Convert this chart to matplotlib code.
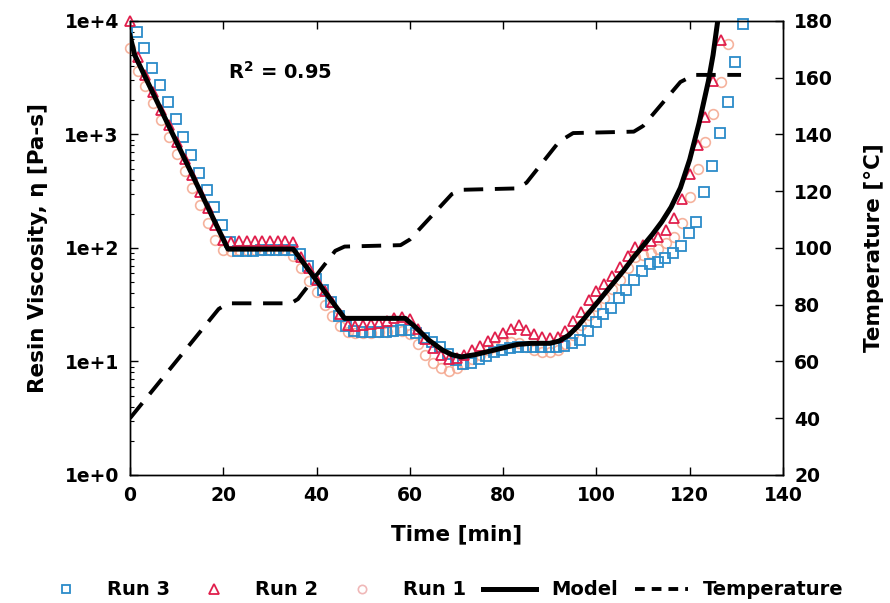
import numpy as np
import matplotlib
matplotlib.use("Agg")
import matplotlib.pyplot as plt
from matplotlib.lines import Line2D
from matplotlib.ticker import FixedLocator, FixedFormatter, LogLocator, NullFormatter

# Sample times [min] (one reading every 100 s)
time_a = [0.0, 1.7, 3.3, 5.0, 6.7, 8.3, 10.0, 11.7, 13.3, 15.0,
          16.7, 18.3, 20.0, 21.7, 23.3, 25.0, 26.7, 28.3, 30.0, 31.7,
          33.3, 35.0, 36.7, 38.3, 40.0, 41.7, 43.3, 45.0, 46.7, 48.3,
          50.0, 51.7, 53.3, 55.0, 56.7, 58.3, 60.0, 61.7, 63.3, 65.0,
          66.7, 68.3, 70.0, 71.7, 73.3, 75.0, 76.7, 78.3, 80.0, 81.7,
          83.3, 85.0, 86.7, 88.3, 90.0, 91.7, 93.3, 95.0, 96.7, 98.3,
          100.0, 101.7, 103.3, 105.0, 106.7, 108.3, 110.0, 111.7, 113.3, 115.0,
          116.7, 118.3, 120.0, 121.7, 123.3, 125.0, 126.7, 128.3, 130.0]
time_b = [1.4, 3.1, 4.8, 6.4, 8.1, 9.8, 11.4, 13.1, 14.8, 16.4,
          18.1, 19.8, 21.4, 23.1, 24.8, 26.4, 28.1, 29.8, 31.4, 33.1,
          34.8, 36.4, 38.1, 39.8, 41.4, 43.1, 44.8, 46.4, 48.1, 49.8,
          51.4, 53.1, 54.8, 56.4, 58.1, 59.8, 61.4, 63.1, 64.8, 66.4,
          68.1, 69.8, 71.4, 73.1, 74.8, 76.4, 78.1, 79.8, 81.4, 83.1,
          84.8, 86.4, 88.1, 89.8, 91.4, 93.1, 94.8, 96.4, 98.1, 99.8,
          101.4, 103.1, 104.8, 106.4, 108.1, 109.8, 111.4, 113.1, 114.8, 116.4,
          118.1, 119.8, 121.4, 123.1, 124.8, 126.4, 128.1, 129.8, 131.4]

# log10 of viscosity [Pa-s]
run1_log = [3.76, 3.56, 3.43, 3.28, 3.13, 2.98, 2.83, 2.68, 2.53, 2.38,
            2.22, 2.07, 1.98, 1.97, 1.98, 1.98, 1.98, 1.98, 1.98, 1.98,
            1.98, 1.93, 1.82, 1.71, 1.61, 1.50, 1.40, 1.31, 1.26, 1.25,
            1.25, 1.25, 1.26, 1.26, 1.27, 1.27, 1.24, 1.15, 1.06, 0.99,
            0.94, 0.92, 0.94, 0.98, 1.02, 1.06, 1.10, 1.13, 1.16, 1.17,
            1.16, 1.13, 1.10, 1.08, 1.08, 1.10, 1.15, 1.23, 1.32, 1.41,
            1.49, 1.56, 1.64, 1.72, 1.82, 1.92, 1.94, 1.96, 1.99, 2.04,
            2.10, 2.22, 2.45, 2.70, 2.93, 3.18, 3.46, 3.80]
run2_log = [4.00, 3.68, 3.52, 3.37, 3.22, 3.08, 2.93, 2.78, 2.64, 2.49,
            2.35, 2.20, 2.07, 2.05, 2.06, 2.06, 2.06, 2.06, 2.06, 2.06,
            2.06, 2.05, 1.92, 1.82, 1.72, 1.62, 1.52, 1.42, 1.32, 1.31,
            1.32, 1.33, 1.34, 1.36, 1.38, 1.39, 1.37, 1.29, 1.20, 1.12,
            1.06, 1.02, 1.03, 1.06, 1.10, 1.14, 1.18, 1.22, 1.25, 1.29,
            1.32, 1.28, 1.24, 1.22, 1.21, 1.22, 1.27, 1.36, 1.44, 1.54,
            1.62, 1.68, 1.75, 1.83, 1.93, 2.01, 2.03, 2.06, 2.10, 2.16,
            2.26, 2.43, 2.65, 2.91, 3.15, 3.47, 3.83]
run3_log = [3.90, 3.76, 3.59, 3.44, 3.29, 3.14, 2.98, 2.82, 2.66, 2.51,
            2.36, 2.20, 2.05, 1.97, 1.97, 1.97, 1.98, 1.98, 1.98, 1.98,
            1.98, 1.95, 1.84, 1.73, 1.63, 1.52, 1.40, 1.31, 1.27, 1.26,
            1.26, 1.26, 1.26, 1.27, 1.28, 1.28, 1.25, 1.21, 1.17, 1.13,
            1.07, 1.01, 0.98, 0.99, 1.02, 1.05, 1.08, 1.10, 1.12, 1.13,
            1.13, 1.13, 1.13, 1.13, 1.13, 1.14, 1.16, 1.19, 1.27, 1.35,
            1.42, 1.47, 1.56, 1.63, 1.72, 1.80, 1.86, 1.88, 1.91, 1.96,
            2.02, 2.13, 2.23, 2.49, 2.72, 3.01, 3.29, 3.64, 3.97]

# Model curve
model_t = [0, 1, 21, 35, 46, 59, 61, 64, 67, 69, 71, 74, 77, 80, 83, 86, 90,
           92, 94, 96, 98, 100, 102, 104, 106, 108, 110, 112, 114, 116, 118,
           120, 122, 124, 125, 126, 126.5]
model_log = [3.87, 3.70, 1.99, 1.99, 1.38, 1.38, 1.31, 1.19, 1.10, 1.06, 1.04,
             1.06, 1.09, 1.12, 1.15, 1.16, 1.16, 1.18, 1.23, 1.31, 1.41, 1.51,
             1.61, 1.71, 1.81, 1.92, 2.02, 2.12, 2.23, 2.36, 2.53, 2.78, 3.10,
             3.47, 3.70, 4.00, 4.15]

# Cure temperature profile
temp_t = [0, 19, 21, 34.5, 36, 44, 46, 58, 60, 69, 71, 83, 85, 92, 95, 108,
          110, 118, 121, 131]
temp_c = [40, 78.5, 80.5, 80.5, 82, 99, 100.5, 101, 103, 119, 120.5, 121, 123,
          137.5, 140.5, 141, 143, 158.5, 161, 161]

plt.rcParams['font.family'] = ['DejaVu Sans']
plt.rcParams['font.weight'] = 'bold'

c_run3 = '#2b8bc9'
c_run2 = '#e01f4c'
c_run1 = '#f4a58c'

fig = plt.figure(figsize=(8.9, 6.03), dpi=100)
ax = fig.add_axes([0.1461, 0.2123, 0.7337, 0.7529])

ax.plot(time_a[:len(run1_log)], 10 ** np.array(run1_log), 'o', ms=7, mfc='none',
        mec=c_run1, mew=1.2, alpha=0.85, clip_on=False, zorder=3)
ax.plot(time_b[:len(run3_log)], 10 ** np.array(run3_log), 's', ms=6.5, mfc='none',
        mec=c_run3, mew=1.3, clip_on=False, zorder=3)
ax.plot(time_a[:len(run2_log)], 10 ** np.array(run2_log), '^', ms=7.5, mfc='none',
        mec=c_run2, mew=1.3, clip_on=False, zorder=4)
ax.plot(model_t, 10 ** np.array(model_log), color='black', lw=3.6, zorder=5)

ax.set_yscale('log')
ax.set_xlim(0, 140)
ax.set_ylim(1, 1e4)
ax.set_xticks(range(0, 141, 20))
ax.yaxis.set_major_locator(FixedLocator([1, 10, 100, 1000, 10000]))
ax.yaxis.set_major_formatter(FixedFormatter(['1e+0', '1e+1', '1e+2', '1e+3', '1e+4']))
ax.yaxis.set_minor_locator(LogLocator(base=10, subs=range(2, 10)))
ax.yaxis.set_minor_formatter(NullFormatter())
ax.tick_params(axis='x', which='major', direction='in', length=6, width=1,
               labelsize=13.5, pad=8, top=True)
ax.tick_params(axis='y', which='major', direction='in', length=6, width=1,
               labelsize=13.5, pad=8, right=False)
ax.tick_params(axis='y', which='minor', direction='in', length=3, width=0.8,
               right=False)

ax.set_xlabel('Time [min]', fontsize=15.5, fontweight='bold', labelpad=14)
ax.set_ylabel('Resin Viscosity, η [Pa-s]', fontsize=15.5, fontweight='bold',
              labelpad=12)
ax.text(0.15, 0.888, r'R$^{\mathbf{2}}$ = 0.95', transform=ax.transAxes,
        fontsize=14, fontweight='bold', va='center')

ax2 = ax.twinx()
ax2.plot(temp_t, temp_c, color='black', lw=2.8, dashes=(5, 3), zorder=2)
ax2.set_ylim(20, 180)
ax2.set_yticks(range(20, 181, 20))
ax2.tick_params(axis='y', direction='in', length=6, width=1, labelsize=13.5, pad=8)
ax2.set_ylabel('Temperature [°C]', fontsize=15.5, fontweight='bold', labelpad=22)

for a in (ax, ax2):
    for s in a.spines.values():
        s.set_linewidth(1.0)

handles = [
    Line2D([], [], ls='none', marker='s', ms=5.5, mfc='none', mec=c_run3, mew=1.3),
    Line2D([], [], ls='none', marker='^', ms=6.5, mfc='none', mec=c_run2, mew=1.3),
    Line2D([], [], ls='none', marker='o', ms=6, mfc='none', mec='#f0b8b8', mew=1.2),
    Line2D([], [], color='black', lw=3.6),
    Line2D([], [], color='black', lw=2.8, dashes=(2.5, 1.8)),
]
labels = ['Run 3', 'Run 2', 'Run 1', 'Model', 'Temperature']
fig.legend(handles, labels, loc='center', bbox_to_anchor=(0.496, 0.0216), ncol=5,
           frameon=False, fontsize=14, handlelength=2.73, handletextpad=0.77,
           columnspacing=0.87, borderaxespad=0, borderpad=0)

fig.savefig('out.png', dpi=100)
